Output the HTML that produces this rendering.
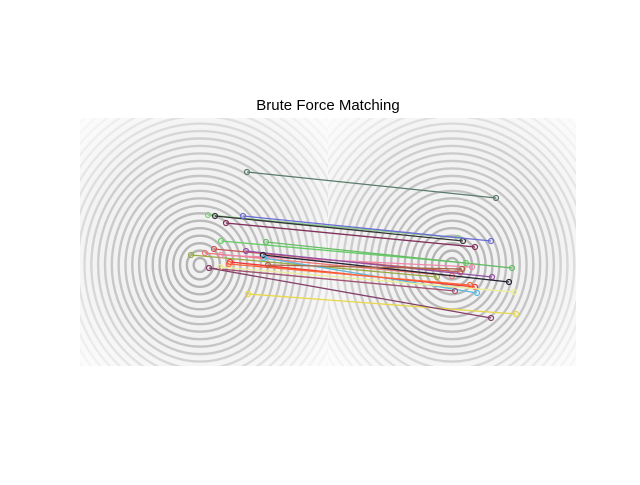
<!DOCTYPE html>
<html><head><meta charset="utf-8"><style>
body{margin:0;background:#fff;width:640px;height:480px;overflow:hidden;font-family:"Liberation Sans",sans-serif}
</style></head><body>
<svg width="640" height="480">
<defs>
<radialGradient id="fade" cx="0.5" cy="0.5" r="0.7"><stop offset="0.6" stop-color="#fff" stop-opacity="0"/><stop offset="1" stop-color="#fff" stop-opacity="0.8"/></radialGradient>
<pattern id="ridgeL" patternUnits="userSpaceOnUse" width="248" height="248" x="80" y="118"></pattern>
</defs>
<text x="328" y="110" text-anchor="middle" font-size="15" fill="#000">Brute Force Matching</text>
<g id="bg"></g>
<g id="marks"></g>
</svg>
<script>
const leftX=[247,208,215,243,226,221,266,214,205,191,221,246,263,264,230,229,268,209,220,248,209];
const leftY=[172,215,216,216,223,241,242,249,253,255,255,251,255,258,262,264,265,268,267,294,268];
const rightX=[496,458,463,491,475,466,512,460,452,437,472,492,509,477,475,470,462,455,514,516,491];
const rightY=[198,238,241,241,247,263,268,272,276,277,267,277,282,293,287,285,269,291,292,314,318];
const colors=["#5a7a6a","#8c8","#333","#6a6ad8","#80305a","#6c6","#6b6","#c55","#e77","#9a4","#e8a","#9050a0","#223","#5ab8e0","#e33","#f63","#a64","#a05070","#ee9","#e8d84a","#85406a"];
const NS="http://www.w3.org/2000/svg";
const bg=document.getElementById('bg');
function mk(t,a){const e=document.createElementNS(NS,t);for(const k in a)e.setAttribute(k,a[k]);return e;}
bg.appendChild(mk('rect',{x:80,y:118,width:496,height:248,fill:'#f2f2f2'}));
[[200,265,80],[452,265,328]].forEach(([cx,cy,x0])=>{
  const g=mk('g',{});
  g.setAttribute('clip-path','');
  for(let r=6;r<190;r+=6.5){
    g.appendChild(mk('ellipse',{cx:cx,cy:cy,rx:r*1.05,ry:r*1.15,fill:'none',stroke:'#9a9a9a','stroke-width':2.4,'stroke-opacity':Math.max(0.15,0.75-r/300)}));
  }
  const cp=mk('clipPath',{id:'c'+x0});cp.appendChild(mk('rect',{x:x0,y:118,width:248,height:248}));
  bg.appendChild(cp);g.setAttribute('clip-path','url(#c'+x0+')');
  bg.appendChild(g);
  bg.appendChild(mk('rect',{x:x0,y:118,width:248,height:248,fill:'url(#fade)'}));
});
const m=document.getElementById('marks');
for(let i=0;i<leftX.length;i++){
  const l=mk('line',{x1:leftX[i],y1:leftY[i],x2:rightX[i],y2:rightY[i],stroke:colors[i],'stroke-width':1.3});
  
  
  m.appendChild(l);
  [[leftX[i],leftY[i]],[rightX[i],rightY[i]]].forEach(([x,y])=>{
    const c=mk('circle',{cx:x,cy:y,r:2.5,fill:'none',stroke:colors[i],'stroke-width':1.2});
    
    
    m.appendChild(c);
  });
}
</script>
</body></html>
